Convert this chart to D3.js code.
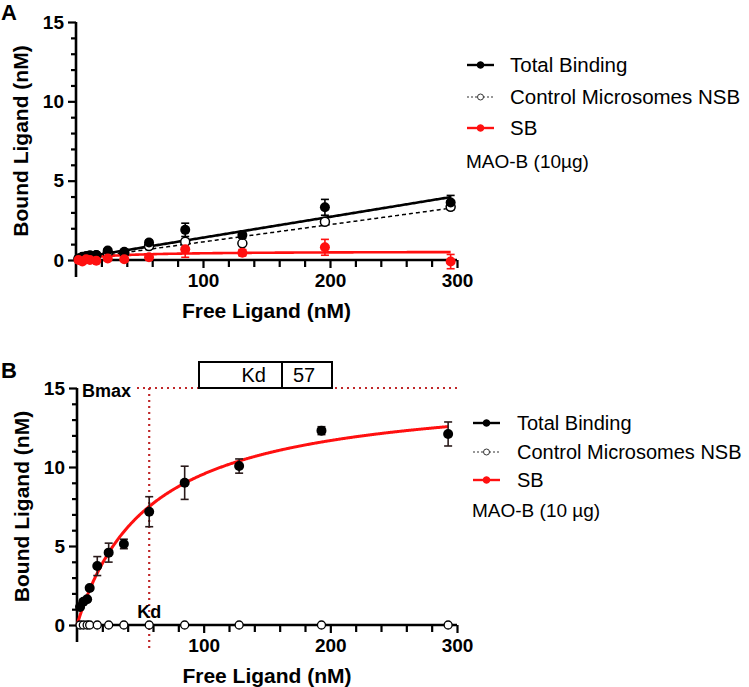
<!DOCTYPE html>
<html><head><meta charset="utf-8">
<script src="https://cdn.jsdelivr.net/npm/d3@7"></script>
<style>body{margin:0;background:#fff}svg{display:block;font-family:"Liberation Sans",Arial,sans-serif}</style>
</head><body><svg id="c" width="749" height="687"></svg>
<script>
// ---- Panel A data ----
const freeA   = [2, 5, 8, 11, 16, 25, 38, 57.5, 86, 131, 196, 295];
const totalA  = [0.1, 0.2, 0.25, 0.3, 0.32, 0.6, 0.52, 1.1, 1.9, 1.57, 3.32, 3.62];
const totalAErr = [0.05, 0.05, 0.05, 0.05, 0.08, 0.1, 0.1, 0.15, 0.42, 0.2, 0.5, 0.45];
const nsbA    = [0.08, 0.15, 0.2, 0.25, 0.3, 0.45, 0.45, 0.88, 1.15, 1.05, 2.41, 3.35];
const sbA     = [0.0, -0.1, 0.05, 0.0, -0.05, 0.1, 0.05, 0.17, 0.67, 0.46, 0.8, -0.1];
const sbAErr  = [0.05, 0.05, 0.05, 0.05, 0.08, 0.1, 0.1, 0.15, 0.5, 0.2, 0.5, 0.45];
const fitA = {totalSlope: 0.0131, totalIntercept: 0.1, nsbSlope: 0.0109, nsbIntercept: 0.05, sbBmax: 0.55, sbKd: 30, xMax: 295};
// ---- Panel B data ----
const freeB   = [2.4, 5, 8, 10, 16, 25, 37, 57, 85, 128, 193, 293];
const totalB  = [1.14, 1.47, 1.63, 2.34, 3.73, 4.58, 5.13, 7.17, 9.0, 10.06, 12.3, 12.09];
const totalBErr = [0.1, 0.1, 0.1, 0.1, 0.6, 0.6, 0.3, 0.95, 1.05, 0.45, 0.25, 0.76];
const nsbB    = [0, 0, 0, 0, 0, 0, 0, 0, 0, 0, 0, 0];
const fitB = {Bmax: 15, Kd: 57, xMax: 293};
// ---- ticks / labels ----
const yTicks = [0, 5, 10, 15];
const xTicks = [100, 200, 300];
const legendItems = ["Total Binding", "Control Microsomes NSB", "SB"];
const noteA = "MAO-B (10\u00b5g)";
const noteB = "MAO-B (10 \u00b5g)";

const svg = d3.select("#c");
const RED = "#ff1010", DOT = "#c0282a";

function panel(o) {
  const x = d3.scaleLinear().domain([0, 300]).range([o.x0, o.x1]);
  const y = d3.scaleLinear().domain([0, 15]).range([o.y0, o.y1]);
  const g = svg.append("g");
  g.append("g").attr("transform", `translate(0,${o.y0})`)
    .call(d3.axisBottom(x).tickValues(xTicks).tickSize(8).tickPadding(6).tickFormat(d3.format("d")));
  g.append("g").attr("transform", `translate(0,${o.y0})`)
    .call(d3.axisBottom(x).tickValues(d3.range(20, 300, 20).filter(v => v % 100)).tickSize(7).tickFormat(""))
    .call(s => s.select(".domain").remove());
  g.append("g").attr("transform", `translate(${o.x0},0)`)
    .call(d3.axisLeft(y).tickValues(yTicks).tickSize(8).tickPadding(4));
  g.append("g").attr("transform", `translate(${o.x0},0)`)
    .call(d3.axisLeft(y).tickValues(d3.range(1, 15).filter(v => v % 5)).tickSize(5).tickFormat(""))
    .call(s => s.select(".domain").remove());
  g.selectAll(".domain").remove();
  g.selectAll(".tick line").attr("stroke", "#000").attr("stroke-width", 2.2);
  g.selectAll(".tick text").attr("font-size", 19).attr("font-weight", "bold").attr("fill", "#000")
    .attr("font-family", "Liberation Sans, Arial, sans-serif");
  g.append("line").attr("x1", o.x0).attr("x2", o.x0).attr("y1", o.y1).attr("y2", o.y0 + 17)
    .attr("stroke", "#000").attr("stroke-width", 2.6);
  g.append("line").attr("x1", o.x0).attr("x2", o.x1).attr("y1", o.y0).attr("y2", o.y0)
    .attr("stroke", "#000").attr("stroke-width", 2.6);
  g.append("text").attr("x", (o.x0 + o.x1) / 2).attr("y", o.y0 + 58).attr("text-anchor", "middle")
    .attr("font-size", 21).attr("font-weight", "bold").text("Free Ligand (nM)");
  g.append("text").attr("transform", `translate(${o.x0 - 48},${(o.y0 + o.y1) / 2}) rotate(-90)`)
    .attr("text-anchor", "middle").attr("font-size", 21).attr("font-weight", "bold").text("Bound Ligand (nM)");
  g.append("text").attr("x", 1).attr("y", o.labelY).attr("font-size", 22).attr("font-weight", "bold").text(o.label);
  return {g, x, y};
}

function errBars(g, x, y, xs, ys, es, color) {
  xs.forEach((xv, i) => {
    const e = es[i]; if (!e) return;
    const cx = x(xv), t = y(ys[i] + e), b = y(ys[i] - e);
    g.append("line").attr("x1", cx).attr("x2", cx).attr("y1", t).attr("y2", b).attr("stroke", color).attr("stroke-width", 1.6);
    [t, b].forEach(v => g.append("line").attr("x1", cx - 4).attr("x2", cx + 4).attr("y1", v).attr("y2", v).attr("stroke", color).attr("stroke-width", 1.6));
  });
}

function legend(g, lx, tx, rows, note, noteY, fs) {
  const styles = [
    {stroke: "#000", dash: null, fill: "#000", open: false},
    {stroke: "#333", dash: "2,2", fill: "#fff", open: true},
    {stroke: RED, dash: null, fill: RED, open: false}];
  legendItems.forEach((t, i) => {
    const s = styles[i], yy = rows[i];
    g.append("line").attr("x1", lx).attr("x2", lx + 27).attr("y1", yy).attr("y2", yy)
      .attr("stroke", s.stroke).attr("stroke-width", s.open ? 1.2 : 2.4).attr("stroke-dasharray", s.dash);
    g.append("circle").attr("cx", lx + 13.5).attr("cy", yy).attr("r", s.open ? 3 : 3.3)
      .attr("fill", s.fill).attr("stroke", s.open ? "#333" : s.fill).attr("stroke-width", 1);
    g.append("text").attr("x", tx).attr("y", yy).attr("dy", "0.36em").attr("font-size", fs).text(t);
  });
  g.append("text").attr("x", lx - 1).attr("y", noteY).attr("dy", "0.36em").attr("font-size", 19).text(note);
}

// ---------- Panel A ----------
{
  const {g, x, y} = panel({x0: 76, x1: 457, y0: 260, y1: 22, label: "A", labelY: 20});
  const line = d3.line().x(d => x(d[0])).y(d => y(d[1]));
  const xsFit = d3.range(0, fitA.xMax + 0.1, 1);
  g.append("path").datum(xsFit.map(v => [v, fitA.nsbIntercept + fitA.nsbSlope * v]))
    .attr("d", line).attr("fill", "none").attr("stroke", "#000").attr("stroke-width", 1.5).attr("stroke-dasharray", "4,3");
  g.append("path").datum(xsFit.map(v => [v, fitA.totalIntercept + fitA.totalSlope * v]))
    .attr("d", line).attr("fill", "none").attr("stroke", "#000").attr("stroke-width", 2.6);
  g.append("path").datum(xsFit.map(v => [v, fitA.sbBmax * v / (fitA.sbKd + v)]))
    .attr("d", line).attr("fill", "none").attr("stroke", RED).attr("stroke-width", 2.6);
  errBars(g, x, y, freeA, totalA, totalAErr, "#000");
  errBars(g, x, y, freeA, sbA, sbAErr, RED);
  g.selectAll(null).data(freeA).enter().append("circle")
    .attr("cx", d => x(d)).attr("cy", (d, i) => y(nsbA[i])).attr("r", 4.5).attr("fill", "#fff")
    .attr("stroke", "#000").attr("stroke-width", 1.5);
  g.selectAll(null).data(freeA).enter().append("circle")
    .attr("cx", d => x(d)).attr("cy", (d, i) => y(totalA[i])).attr("r", 5).attr("fill", "#000");
  g.selectAll(null).data(freeA).enter().append("circle")
    .attr("cx", d => x(d)).attr("cy", (d, i) => y(sbA[i])).attr("r", 5).attr("fill", RED);
  legend(g, 467, 510, [65, 97, 128], noteA, 161, 20.5);
}

// ---------- Panel B ----------
{
  const {g, x, y} = panel({x0: 77, x1: 457, y0: 625, y1: 388, label: "B", labelY: 378});
  g.append("line").attr("x1", x(0) + 60).attr("x2", x(300)).attr("y1", y(fitB.Bmax)).attr("y2", y(fitB.Bmax))
    .attr("stroke", DOT).attr("stroke-width", 2.2).attr("stroke-dasharray", "2,4");
  g.append("line").attr("x1", x(fitB.Kd)).attr("x2", x(fitB.Kd)).attr("y1", y(fitB.Bmax)).attr("y2", y(0) + 25)
    .attr("stroke", DOT).attr("stroke-width", 2.2).attr("stroke-dasharray", "2,4");
  g.append("text").attr("x", x(0) + 5).attr("y", y(fitB.Bmax) + 9).attr("font-size", 18).attr("font-weight", "bold").text("Bmax");
  g.append("text").attr("x", x(fitB.Kd)).attr("y", y(0) - 7).attr("text-anchor", "middle")
    .attr("font-size", 18).attr("font-weight", "bold").text("Kd");
  const line = d3.line().x(d => x(d[0])).y(d => y(d[1]));
  g.append("path").datum(d3.range(0, fitB.xMax + 0.1, 0.5).map(v => [v, fitB.Bmax * v / (fitB.Kd + v)]))
    .attr("d", line).attr("fill", "none").attr("stroke", RED).attr("stroke-width", 3);
  errBars(g, x, y, freeB, totalB, totalBErr, "#2a1a1a");
  g.selectAll(null).data(freeB).enter().append("circle")
    .attr("cx", d => x(d)).attr("cy", (d, i) => y(nsbB[i])).attr("r", 4).attr("fill", "#fff")
    .attr("stroke", "#000").attr("stroke-width", 1.3);
  g.selectAll(null).data(freeB).enter().append("circle")
    .attr("cx", d => x(d)).attr("cy", (d, i) => y(totalB[i])).attr("r", 5).attr("fill", "#000");
  const bx = 199, bw = 133, by = 362, bh = 26, div = 282;
  g.append("rect").attr("x", bx).attr("y", by).attr("width", bw).attr("height", bh)
    .attr("fill", "#fff").attr("stroke", "#000").attr("stroke-width", 2);
  g.append("line").attr("x1", div).attr("x2", div).attr("y1", by).attr("y2", by + bh).attr("stroke", "#000").attr("stroke-width", 2);
  g.append("text").attr("x", 266).attr("y", by + 20).attr("text-anchor", "end").attr("font-size", 20).text("Kd");
  g.append("text").attr("x", 293).attr("y", by + 20).attr("font-size", 20).text(fitB.Kd);
  legend(g, 473, 517, [423, 452, 480], noteB, 510, 20);
}
</script></body></html>
